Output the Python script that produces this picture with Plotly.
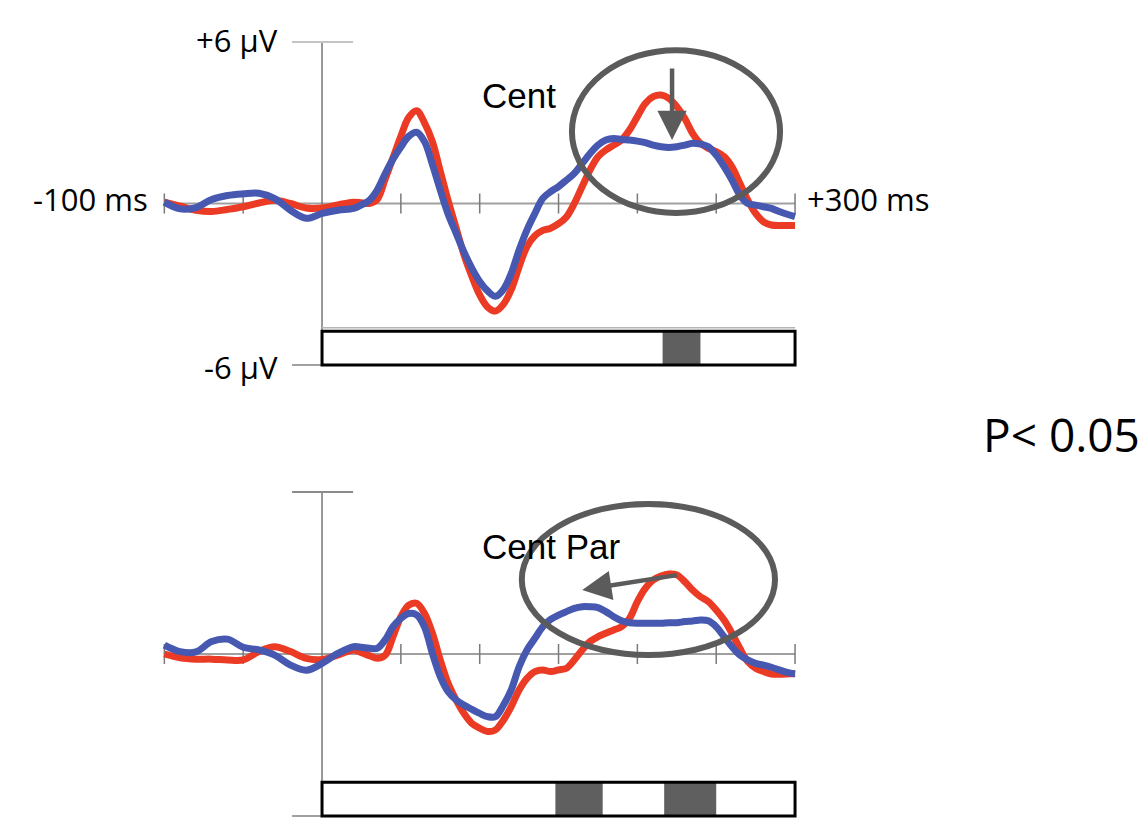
import plotly.graph_objects as go

# ---------------- data ----------------
time_ms = [-100, -90, -80, -70, -60, -50, -40, -30, -20, -10, 0, 10, 20,
           25, 30, 35, 40, 45, 50, 55, 60, 65, 70,
           75, 80, 85, 90, 95, 100, 105, 110, 115, 120,
           125, 130, 135, 140, 145, 150, 155, 160, 165, 170,
           175, 180, 185, 190, 195, 200, 205, 210, 215, 220,
           225, 230, 235, 240, 245, 250, 255, 260, 265, 270,
           275, 280, 285, 290, 295, 300]

cent_red = [0.05, -0.1, -0.25, -0.3, -0.22, -0.12, 0.02, 0.12, 0.0, -0.17, -0.17, -0.05, 0.05,
            0.03, 0.0, 0.15, 0.9, 1.7, 2.5, 3.2, 3.45, 3.0, 2.3,
            1.2, 0.1, -0.9, -1.9, -2.7, -3.4, -3.85, -4.0, -3.75, -3.2,
            -2.35, -1.6, -1.2, -1.0, -0.92, -0.75, -0.5, 0.0, 0.63, 1.25,
            1.74, 1.99, 2.17, 2.36, 2.73, 3.23, 3.72, 3.97, 4.03, 3.91,
            3.6, 3.17, 2.61, 2.24, 2.05, 1.93, 1.74, 1.36, 0.75, 0.13,
            -0.37, -0.68, -0.8, -0.82, -0.82, -0.82]

cent_blue = [0.05, -0.2, -0.15, 0.15, 0.3, 0.36, 0.38, 0.18, -0.25, -0.55, -0.37, -0.25, -0.18,
             -0.05, 0.12, 0.5, 1.1, 1.65, 2.1, 2.5, 2.65, 2.3, 1.45,
             0.5, -0.4, -1.1, -1.8, -2.4, -2.9, -3.25, -3.45, -3.2, -2.6,
             -1.73, -0.98, -0.37, 0.19, 0.44, 0.63, 0.87, 1.12, 1.49, 1.86,
             2.17, 2.36, 2.42, 2.38, 2.36, 2.32, 2.26, 2.17, 2.11, 2.08,
             2.11, 2.17, 2.24, 2.21, 2.11, 1.8, 1.37, 0.87, 0.31, 0.0,
             -0.06, -0.12, -0.18, -0.3, -0.4, -0.49]

centpar_red = [0.0, -0.14, -0.19, -0.19, -0.22, -0.22, 0.09, 0.27, 0.09, -0.16, -0.2, -0.04, 0.15,
               0.05, -0.06, -0.16, -0.05, 0.64, 1.38, 1.81, 1.88, 1.5, 0.77,
               -0.22, -1.09, -1.7, -2.2, -2.57, -2.75, -2.87, -2.81, -2.45, -1.95,
               -1.33, -0.9, -0.65, -0.59, -0.65, -0.59, -0.53, -0.22, 0.15, 0.46,
               0.64, 0.77, 0.89, 1.01, 1.32, 1.94, 2.43, 2.74, 2.89, 2.96,
               2.93, 2.68, 2.37, 2.12, 1.94, 1.63, 1.26, 0.77, 0.21, -0.28,
               -0.53, -0.65, -0.74, -0.75, -0.74, -0.72]

centpar_blue = [0.33, 0.09, 0.08, 0.46, 0.55, 0.25, 0.15, -0.04, -0.41, -0.6, -0.35, 0.02, 0.27,
                0.25, 0.21, 0.21, 0.52, 1.01, 1.32, 1.5, 1.45, 1.0, 0.02,
                -0.84, -1.4, -1.7, -1.89, -2.05, -2.2, -2.32, -2.32, -1.9, -1.33,
                -0.47, 0.15, 0.58, 1.01, 1.28, 1.44, 1.57, 1.69, 1.75, 1.75,
                1.72, 1.57, 1.38, 1.23, 1.16, 1.14, 1.14, 1.14, 1.14, 1.16,
                1.16, 1.2, 1.22, 1.26, 1.23, 1.01, 0.64, 0.27, -0.04, -0.22,
                -0.35, -0.41, -0.49, -0.59, -0.68, -0.74]

x_ticks = [-100, -50, 50, 100, 150, 200, 250, 300]
sig_cent = [(216, 240)]
sig_centpar = [(148, 178), (217, 250)]
panel_titles = ["Cent", "Cent Par"]

RED = "#ec3b24"
BLUE = "#4658b0"
GRAY = "#5b5b5b"

fig = go.Figure()

panels = [
    dict(xa="x", ya="y", red=cent_red, blue=cent_blue, sig=sig_cent, title=panel_titles[0],
         ell=(158.5, 290.5, -0.35, 5.7), arrow=(222, 2.36, 222, 5.07), topcolor="#c4c4c4"),
    dict(xa="x2", ya="y2", red=centpar_red, blue=centpar_blue, sig=sig_centpar, title=panel_titles[1],
         ell=(126.7, 287.3, -0.04, 5.56), arrow=(165, 2.37, 226, 2.93), topcolor="#8a8a8a"),
]

shapes = []
annotations = []
for i, p in enumerate(panels):
    xr, yr = p["xa"], p["ya"]
    # axis decorations
    shapes.append(dict(type="line", xref=xr, yref=yr, x0=-100, x1=300, y0=0, y1=0,
                       line=dict(color="#a0a0a0", width=2), layer="below"))
    for t in x_ticks:
        shapes.append(dict(type="line", xref=xr, yref=yr, x0=t, x1=t, y0=-0.37, y1=0.37,
                           line=dict(color="#7a7a7a", width=1.5), layer="below"))
    shapes.append(dict(type="line", xref=xr, yref=yr, x0=0, x1=0, y0=-6, y1=6,
                       line=dict(color="#777777", width=1.5), layer="below"))
    shapes.append(dict(type="line", xref=xr, yref=yr, x0=-19, x1=19.7, y0=6, y1=6,
                       line=dict(color=p["topcolor"], width=2), layer="below"))
    shapes.append(dict(type="line", xref=xr, yref=yr, x0=-19, x1=0, y0=-6, y1=-6,
                       line=dict(color="#a0a0a0", width=2), layer="below"))
    if i == 0:
        shapes.append(dict(type="line", xref=xr, yref=yr, x0=0, x1=300, y0=-4.62, y1=-4.62,
                           line=dict(color="#b5b5b5", width=1.5), layer="below"))
    # significance box
    shapes.append(dict(type="rect", xref=xr, yref=yr, x0=0, x1=300, y0=-6.0, y1=-4.75,
                       fillcolor="white", line=dict(width=0)))
    for a, b in p["sig"]:
        shapes.append(dict(type="rect", xref=xr, yref=yr, x0=a, x1=b, y0=-6.0, y1=-4.75,
                           fillcolor="#5f5f5f", line=dict(width=0)))
    shapes.append(dict(type="rect", xref=xr, yref=yr, x0=0, x1=300, y0=-6.0, y1=-4.75,
                       line=dict(color="black", width=3)))
    # ellipse
    e = p["ell"]
    shapes.append(dict(type="circle", xref=xr, yref=yr, x0=e[0], x1=e[1], y0=e[2], y1=e[3],
                       line=dict(color=GRAY, width=6)))
    # arrow
    ar = p["arrow"]
    annotations.append(dict(x=ar[0], y=ar[1], ax=ar[2], ay=ar[3], xref=xr, yref=yr,
                            axref=xr, ayref=yr, text="", showarrow=True, arrowhead=2,
                            arrowsize=1.3, arrowwidth=4.5, arrowcolor=GRAY, standoff=0))
    # title
    annotations.append(dict(x=100, y=4.02 if i == 0 else 3.98, xref=xr, yref=yr, text=p["title"],
                            showarrow=False, xanchor="left", yanchor="middle",
                            font=dict(family="Liberation Sans, Arial", size=35, color="black")))
    # traces
    fig.add_trace(go.Scatter(x=time_ms, y=p["red"], xaxis=xr, yaxis=yr, mode="lines",
                             line=dict(color=RED, width=7, shape="spline", smoothing=1.0),
                             showlegend=False, hoverinfo="skip"))
    fig.add_trace(go.Scatter(x=time_ms, y=p["blue"], xaxis=xr, yaxis=yr, mode="lines",
                             line=dict(color=BLUE, width=7, shape="spline", smoothing=1.0),
                             showlegend=False, hoverinfo="skip"))

lab_font = dict(family="Open Sans, Noto Sans", size=31, color="black")
annotations += [
    dict(x=-19, y=6, xref="x", yref="y", text="+6 µV", showarrow=False, xanchor="right",
         yanchor="middle", xshift=-12, yshift=2, font=lab_font),
    dict(x=-19, y=-6, xref="x", yref="y", text="-6 µV", showarrow=False, xanchor="right",
         yanchor="middle", xshift=-12, yshift=-2, font=lab_font),
    dict(x=-100, y=0, xref="x", yref="y", text="-100 ms", showarrow=False, xanchor="right",
         yanchor="middle", xshift=-14, yshift=4, font=lab_font),
    dict(x=300, y=0, xref="x", yref="y", text="+300 ms", showarrow=False, xanchor="left",
         yanchor="middle", xshift=10, yshift=4, font=lab_font),
    dict(x=981 / 1140, y=1 - 434 / 822, xref="paper", yref="paper", text="P< 0.05",
         showarrow=False, xanchor="left", yanchor="middle",
         font=dict(family="Open Sans, Noto Sans", size=46, color="black")),
]

xdom = [161.2 / 1140, 798.2 / 1140]
ax_common = dict(visible=False, range=[-102, 302], domain=xdom, fixedrange=True)
fig.update_layout(
    width=1140, height=822,
    margin=dict(l=0, r=0, t=0, b=0),
    paper_bgcolor="white", plot_bgcolor="rgba(0,0,0,0)",
    xaxis=dict(ax_common, anchor="y"),
    xaxis2=dict(ax_common, anchor="y2"),
    yaxis=dict(visible=False, range=[-6.5, 6.5], domain=[1 - 378.35 / 822, 1 - 28.65 / 822], anchor="x"),
    yaxis2=dict(visible=False, range=[-6.2, 6.5], domain=[1 - 821.4 / 822, 1 - 478.5 / 822], anchor="x2"),
    shapes=shapes,
    annotations=annotations,
)

fig.write_html("out.html")
